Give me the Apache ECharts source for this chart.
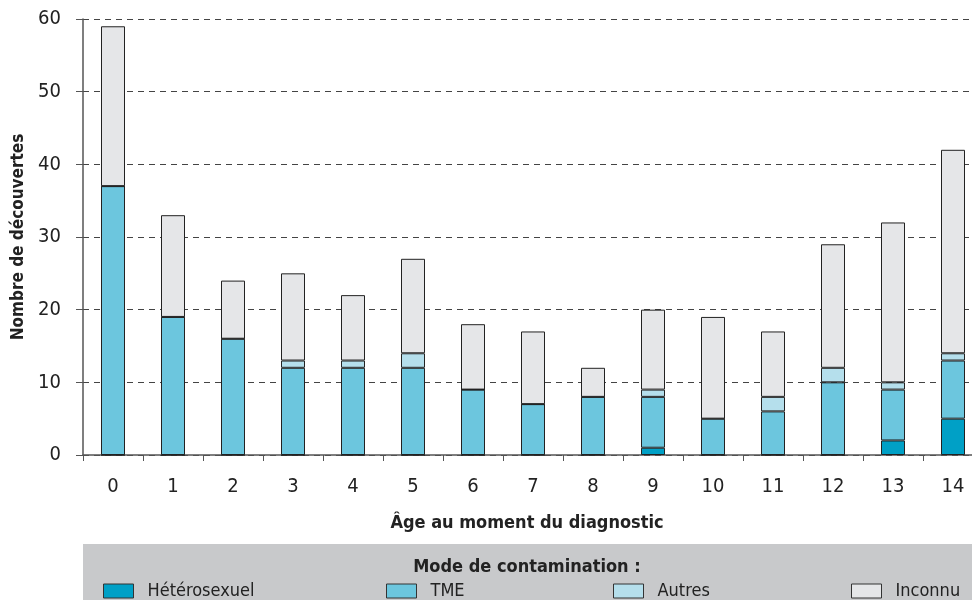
<!DOCTYPE html>
<html>
<head>
<meta charset="utf-8">
<script src="https://cdn.jsdelivr.net/npm/echarts@6/dist/echarts.min.js"></script>
<style>html,body{margin:0;padding:0;background:#fff}#c{width:972px;height:600px}</style>
</head>
<body>
<div id="c"></div>
<script>
const categories = ['0','1','2','3','4','5','6','7','8','9','10','11','12','13','14'];
const heterosexuel = [0,0,0,0,0,0,0,0,0,1,0,0,0,2,5];
const tme = [37,19,16,12,12,12,9,7,8,7,5,6,10,7,8];
const autres = [0,0,0,1,1,2,0,0,0,1,0,2,2,1,1];
const inconnu = [22,14,8,12,9,13,9,10,4,11,14,9,17,22,28];
const yTicks = {min:0, max:60, interval:10};

const FONT = '"Liberation Sans Narrow", "DejaVu Sans Condensed", sans-serif';
const chart = echarts.init(document.getElementById('c'), null, {renderer:'canvas'});

function mk(name, data, color){
  return {
    name, type:'bar', stack:'total', data, barWidth:24,
    itemStyle:{color, borderColor:'#222', borderWidth:1},
    emphasis:{disabled:true}
  };
}
function lg(name, left){
  return {
    data:[name], left, top:582, itemWidth:30, itemHeight:14, itemGap:0,
    padding:0, icon:'rect',
    textStyle:{fontFamily:FONT, fontSize:18, color:'#222', padding:[0,0,0,9]},
    itemStyle:{borderColor:'#333', borderWidth:1},
    selectedMode:false
  };
}
chart.setOption({
  animation:false,
  backgroundColor:'#fff',
  grid:{left:83, right:-11, top:19, bottom:145, containLabel:false, outerBoundsMode:'none'},
  graphic:[
    {type:'rect', left:83, top:544, shape:{width:889, height:56}, style:{fill:'#C8C9CB'}, z:-1},
    {type:'text', x:527, y:567, style:{text:'Mode de contamination :', font:'bold 18px ' + FONT, fill:'#222', align:'center', verticalAlign:'middle'}}
  ],
  legend:[
    lg('Hétérosexuel', 103),
    lg('TME', 386),
    lg('Autres', 613),
    lg('Inconnu', 851)
  ],
  xAxis:{
    type:'category', data:categories, boundaryGap:true,
    name:'Âge au moment du diagnostic', nameLocation:'middle', nameGap:59,
    nameTextStyle:{fontFamily:FONT, fontSize:18, fontWeight:'bold', color:'#222', padding:[0,12,0,0]},
    axisLine:{lineStyle:{color:'#555', width:1.5}},
    axisTick:{show:true, length:6, lineStyle:{color:'#555'}, alignWithLabel:false},
    axisLabel:{fontFamily:FONT, fontSize:20, color:'#222', margin:22}
  },
  yAxis:{
    type:'value', min:yTicks.min, max:yTicks.max, interval:yTicks.interval,
    name:'Nombre de découvertes', nameLocation:'middle', nameGap:56, nameRotate:90,
    nameTextStyle:{fontFamily:FONT, fontSize:17, fontWeight:'bold', color:'#222'},
    axisLine:{show:true, lineStyle:{color:'#555', width:1.5}},
    axisTick:{show:true, length:7, lineStyle:{color:'#555'}},
    axisLabel:{fontFamily:FONT, fontSize:20, color:'#222', margin:22},
    splitLine:{show:true, lineStyle:{color:'#444', type:[6,5], width:1}}
  },
  series:[
    mk('Hétérosexuel', heterosexuel, '#00A0C6'),
    mk('TME', tme, '#6CC6DE'),
    mk('Autres', autres, '#B5DFEC'),
    mk('Inconnu', inconnu, '#E5E6E8')
  ]
});
</script>
</body>
</html>
